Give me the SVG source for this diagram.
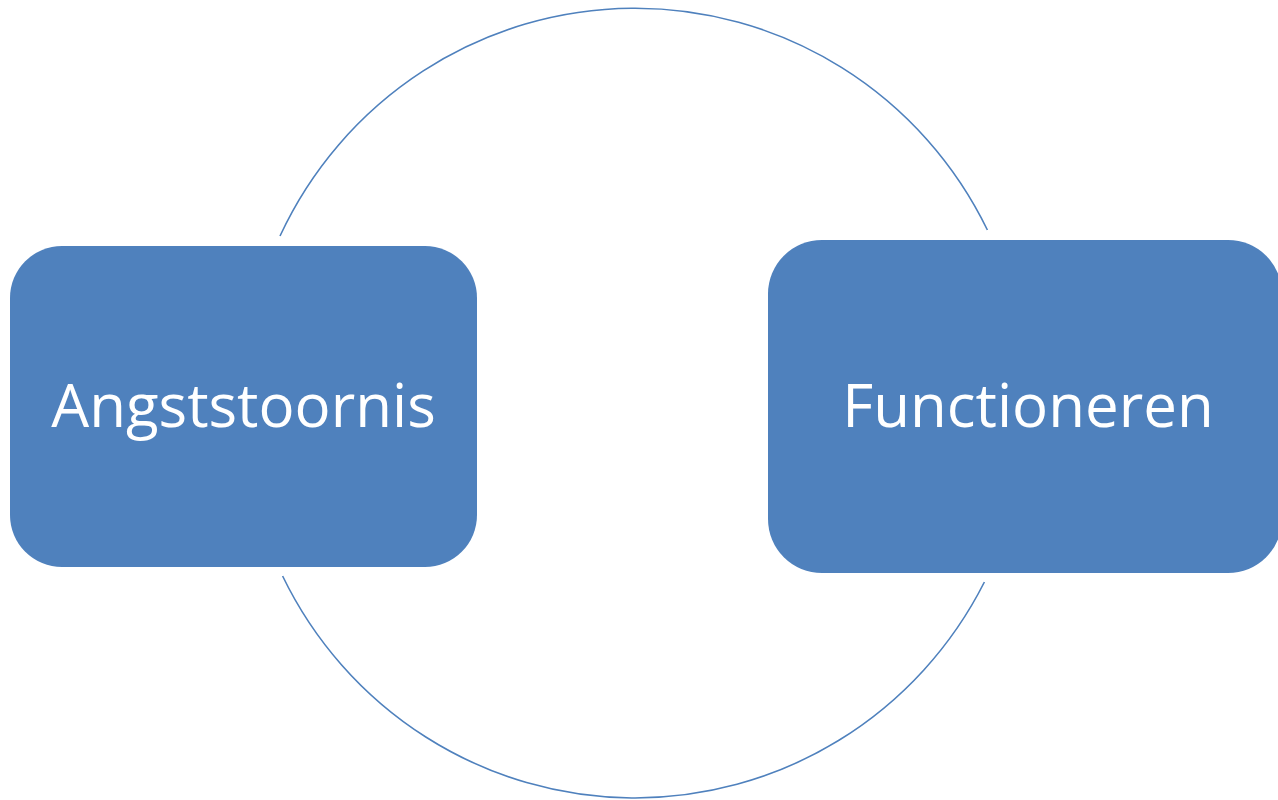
<svg xmlns="http://www.w3.org/2000/svg" width="1278" height="800" viewBox="0 0 1278 800">
<style>
.box{fill:#4f81bd;}
.lbl{fill:#ffffff;font-family:"Open Sans","Liberation Sans",sans-serif;font-size:60px;text-anchor:middle;}
.arc{fill:none;stroke:#4f81bd;stroke-width:1.6;}
</style>
<rect width="1278" height="800" fill="#ffffff"/>
<g id="connectors">
<path class="arc" d="M280,236 A392,395 0 0 1 987.4,230"/>
<path class="arc" d="M984.4,582 A392,395 0 0 1 282.6,576"/>
</g>
<g id="angststoornis">
<rect class="box" x="10" y="246" width="467" height="321" rx="52" ry="52"/>
<text class="lbl" x="243.5" y="427">Angststoornis</text>
</g>
<g id="functioneren">
<rect class="box" x="768" y="240" width="514" height="333" rx="54" ry="54"/>
<text class="lbl" x="1028" y="427">Functioneren</text>
</g>
</svg>
